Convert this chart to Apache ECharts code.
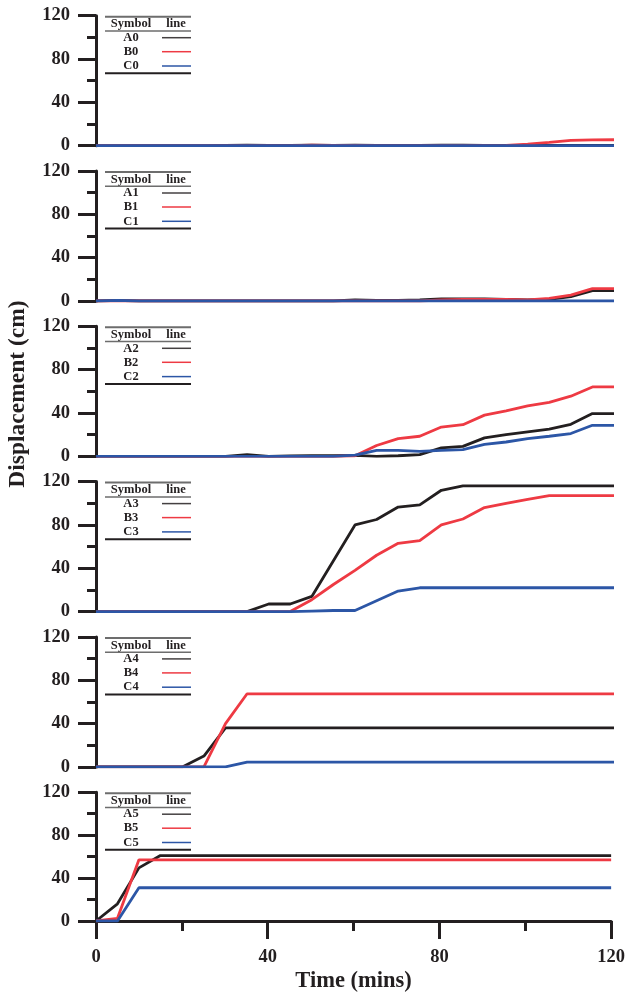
<!DOCTYPE html>
<html><head><meta charset="utf-8">
<script src="https://cdn.jsdelivr.net/npm/echarts@6/dist/echarts.min.js"></script>
<style>html,body{margin:0;padding:0;background:#fff}#c{width:628px;height:994px}</style>
</head><body><div id="c"></div>
<script>
const time = [0,5,10,15,20,25,30,35,40,45,50,55,60,65,70,75,80,85,90,95,100,105,110,115,120];
const xTicks = [0,40,80,120];
const yTicks = [0,40,80,120];
const seriesNames = [['A0','B0','C0'],['A1','B1','C1'],['A2','B2','C2'],['A3','B3','C3'],['A4','B4','C4'],['A5','B5','C5']];
// panel 0
const A0 = [0,0,0,0,0,0,0.3,0.5,0.3,0.3,0.5,0.3,0.5,0.3,0.3,0.3,0.5,0.5,0.3,0.3,0.3,0.3,0.3,0.3,0.3];
const B0 = [0,0,0,0,0,0,0,0,0,0,0.5,0.3,0.3,0,0,0,0,0,0,0.3,1.5,3,5,5.3,5.5];
const C0 = [0,0,0,0,0,0,0,0,0,0,0,0,0,0,0,0,0,0,0,0,0,0,0,0,0];
// panel 1
const A1 = [0,0.5,0,0,0,0,0,0,0,0,0,0,1,0.5,0.5,1,2,2,2,1.5,1,1.5,4,9.5,9.5];
const B1 = [0,0,0,0,0,0,0,0,0,0,0,0,0,0,0,0,1,1.5,1.5,1.5,1,2.5,5.5,11.5,11.5];
const C1 = [0,0.5,0,0,0,0,0,0,0,0,0,0,0,0,0,0,0,0,0,0,0,0,0,0,0];
// panel 2
const A2 = [0,0,0,0,0,0,0,1.5,0,0.3,0.5,0.5,0.8,0,0.5,1.5,7.7,9.2,17,20,22.5,25,29.5,39.4,39.4];
const B2 = [0,0,0,0,0,0,0,0,0,0,0,0,0.5,10,16.3,18.5,27,29.2,38,42,46.6,49.7,55.5,64,64];
const C2 = [0,0,0,0,0,0,0,0,0,0,0,0,1,5.5,5.5,4.6,5.5,6.2,11,13.2,16.3,18.5,21,28.6,28.6];
// panel 3
const A3 = [0,0,0,0,0,0,0,0,7,7,14,47,80,85,96.5,98.5,112,116,116,116,116,116,116,116,116];
const B3 = [0,0,0,0,0,0,0,0,0,0,11,25,38,52,63,65.5,80,85.5,96,100,103.5,107,107,107,107];
const C3 = [0,0,0,0,0,0,0,0,0,0,0.5,1,1,10,19,22,22,22,22,22,22,22,22,22,22];
// panel 4
const A4 = [0,0,0,0,0,10,36,36,36,36,36,36,36,36,36,36,36,36,36,36,36,36,36,36,36];
const B4 = [0,0,0,0,0,0,40,67.5,67.5,67.5,67.5,67.5,67.5,67.5,67.5,67.5,67.5,67.5,67.5,67.5,67.5,67.5,67.5,67.5,67.5];
const C4 = [0,0,0,0,0,0,0,4.5,4.5,4.5,4.5,4.5,4.5,4.5,4.5,4.5,4.5,4.5,4.5,4.5,4.5,4.5,4.5,4.5,4.5];
// panel 5
const A5 = [0,16,49.5,61,61,61,61,61,61,61,61,61,61,61,61,61,61,61,61,61,61,61,61,61,61];
const B5 = [0,2.5,57,57,57,57,57,57,57,57,57,57,57,57,57,57,57,57,57,57,57,57,57,57,57];
const C5 = [0,0,31,31,31,31,31,31,31,31,31,31,31,31,31,31,31,31,31,31,31,31,31,31,31];
const panels = [[A0,B0,C0],[A1,B1,C1],[A2,B2,C2],[A3,B3,C3],[A4,B4,C4],[A5,B5,C5]];

const colors = ['#231f20','#ee3a43','#2c56a6'];
const FONT = '"Liberation Serif","Times New Roman",serif';
const chart = echarts.init(document.getElementById('c'), null, {renderer:'canvas'});
const grids=[], xAxes=[], yAxes=[], series=[], graphics=[];
const N = panels.length;
for (let i=0;i<N;i++){
  const top = 15.7 + i*155.3;
  grids.push({left:96, right:14, top:top, height:130});
  const last = i===N-1;
  xAxes.push({type:'value', gridIndex:i, min:0, max:120, interval:40, show:last,
    axisLine:{show:last, lineStyle:{color:'#231f20', width:3}},
    axisTick:{show:true, length:18, lineStyle:{width:3, color:'#231f20'}},
    minorTick:{show:true, splitNumber:2, length:10, lineStyle:{width:3, color:'#231f20'}},
    splitLine:{show:false}, minorSplitLine:{show:false},
    axisLabel:{show:last, margin:27, fontFamily:FONT, fontWeight:'bold', fontSize:18.5, color:'#231f20'},
    name: last ? 'Time (mins)' : '', nameLocation:'middle', nameGap:49,
    nameTextStyle:{fontFamily:FONT, fontWeight:'bold', fontSize:22.5, color:'#231f20'}
  });
  yAxes.push({type:'value', gridIndex:i, min:0, max:120, interval:40,
    axisLine:{show:true, lineStyle:{color:'#231f20', width:3}},
    axisTick:{show:true, length:18, lineStyle:{width:3, color:'#231f20'}},
    minorTick:{show:true, splitNumber:2, length:9, lineStyle:{width:3, color:'#231f20'}},
    splitLine:{show:false}, minorSplitLine:{show:false},
    axisLabel:{margin:26, fontFamily:FONT, fontWeight:'bold', fontSize:18.5, color:'#231f20',
      formatter:v=> yTicks.indexOf(v)>=0 ? String(v) : ''}
  });
  panels[i].forEach((arr,k)=>{
    series.push({type:'line', name:seriesNames[i][k], xAxisIndex:i, yAxisIndex:i,
      data: time.map((t,j)=>[t,arr[j]]), showSymbol:false, symbol:'none',
      lineStyle:{color:colors[k], width:2.8}, itemStyle:{color:colors[k]}, z:2+k, animation:false});
  });
  // legend table
  const L=105, R=191, S=162;
  const ch = [];
  ch.push({type:'line', shape:{x1:L,y1:1,x2:R,y2:1}, style:{stroke:'#6d6d6d', lineWidth:2}});
  ch.push({type:'text', style:{text:'Symbol', x:131, y:8.5, textAlign:'center', textVerticalAlign:'middle', font:'bold 12.5px '+FONT, fill:'#231f20'}});
  ch.push({type:'text', style:{text:'line', x:176, y:8.5, textAlign:'center', textVerticalAlign:'middle', font:'bold 12.5px '+FONT, fill:'#231f20'}});
  ch.push({type:'line', shape:{x1:L,y1:15.3,x2:R,y2:15.3}, style:{stroke:'#6d6d6d', lineWidth:1.5}});
  [22,36,50.3].forEach((yy,k)=>{
    ch.push({type:'text', style:{text:seriesNames[i][k], x:131, y:yy, textAlign:'center', textVerticalAlign:'middle', font:'bold 12.5px '+FONT, fill:'#231f20'}});
    ch.push({type:'line', shape:{x1:S,y1:yy,x2:R,y2:yy}, style:{stroke:colors[k], lineWidth:1.5, opacity: k===0?0.85:1}});
  });
  ch.push({type:'line', shape:{x1:L,y1:57.6,x2:R,y2:57.6}, style:{stroke:'#231f20', lineWidth:2}});
  graphics.push({type:'group', x:0, y:top, children:ch, z:10});
}
graphics.push({type:'text', x:18, y:394, rotation:Math.PI/2,
  style:{text:'Displacement (cm)', textAlign:'center', textVerticalAlign:'middle', font:'bold 23.5px '+FONT, fill:'#231f20'}});
chart.setOption({animation:false, grid:grids, xAxis:xAxes, yAxis:yAxes, series:series, graphic:graphics});
</script></body></html>
